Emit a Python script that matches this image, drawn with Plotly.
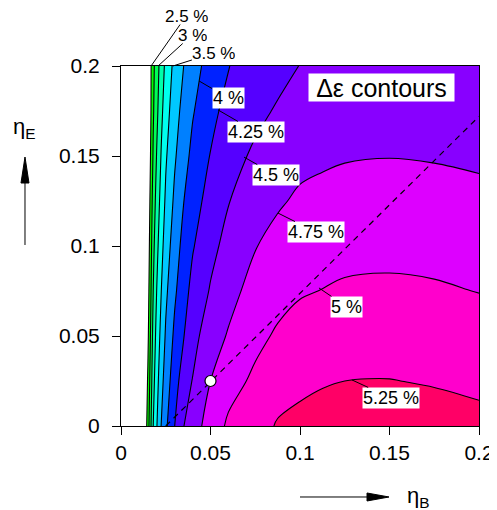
import plotly.graph_objects as go

# grid coordinates (eta_B along x, eta_E along y)
eta_B = [0.0135, 0.015, 0.0165, 0.018, 0.02, 0.0225, 0.025, 0.03, 0.035, 0.04,
         0.05, 0.06, 0.075, 0.0875, 0.1, 0.1125, 0.125, 0.15, 0.175, 0.2]
eta_E = [0.0, 0.025, 0.05, 0.075, 0.1, 0.125, 0.15, 0.175, 0.2]

# delta-epsilon (%), one list per eta_B column (bottom -> top)
col_00135 = [2.35, 2.30, 2.25, 2.20, 2.15, 2.10, 2.05, 2.00, 1.95]
col_0015 = [2.61, 2.53, 2.44, 2.38, 2.33, 2.28, 2.24, 2.20, 2.16]
col_00165 = [2.94, 2.85, 2.76, 2.69, 2.63, 2.57, 2.505, 2.46, 2.45]
col_0018 = [3.25, 3.17, 3.09, 3.00, 2.93, 2.86, 2.78, 2.72, 2.69]
col_002 = [3.49, 3.41, 3.34, 3.26, 3.18, 3.10, 3.02, 2.94, 2.89]
col_00225 = [3.76, 3.67, 3.58, 3.50, 3.42, 3.345, 3.27, 3.19, 3.12]
col_0025 = [3.95, 3.86, 3.78, 3.70, 3.62, 3.54, 3.47, 3.39, 3.31]
col_003 = [4.25, 4.15, 4.055, 3.96, 3.88, 3.80, 3.72, 3.65, 3.58]
col_0035 = [4.495, 4.37, 4.24, 4.16, 4.08, 3.995, 3.91, 3.83, 3.75]
col_004 = [4.635, 4.51, 4.415, 4.32, 4.23, 4.145, 4.06, 3.98, 3.90]
col_005 = [4.86, 4.75, 4.64, 4.52, 4.43, 4.345, 4.26, 4.18, 4.10]
col_006 = [5.04, 4.91, 4.77, 4.67, 4.58, 4.49, 4.41, 4.33, 4.245]
col_0075 = [5.15, 5.045, 4.94, 4.84, 4.74, 4.64, 4.54, 4.44, 4.34]
col_00875 = [5.27, 5.15, 5.03, 4.923, 4.823, 4.722, 4.623, 4.524, 4.426]
col_01 = [5.31, 5.20, 5.09, 4.98, 4.88, 4.785, 4.69, 4.595, 4.505]
col_01125 = [5.34, 5.232, 5.118, 5.005, 4.908, 4.812, 4.715, 4.62, 4.525]
col_0125 = [5.36, 5.25, 5.14, 5.03, 4.93, 4.83, 4.735, 4.64, 4.54]
col_015 = [5.36, 5.255, 5.15, 5.04, 4.94, 4.845, 4.745, 4.65, 4.55]
col_0175 = [5.34, 5.235, 5.13, 5.025, 4.93, 4.83, 4.735, 4.64, 4.54]
col_02 = [5.31, 5.205, 5.10, 4.995, 4.90, 4.805, 4.715, 4.625, 4.535]

columns = [col_00135, col_0015, col_00165, col_0018, col_002, col_00225, col_0025,
           col_003, col_0035, col_004, col_005, col_006, col_0075, col_00875,
           col_01, col_01125, col_0125, col_015, col_0175, col_02]

# contour levels (%)
level_start, level_end, level_step = 2.5, 5.25, 0.25
band_colors = ["#ffffff", "#00ff00", "#00ff55", "#00ffaa", "#00ffee", "#00c8ff",
               "#0080ff", "#0022ff", "#5500ff", "#8800ff", "#dd00ff", "#ff00cc",
               "#ff0066"]

# dashed reference line and marked design point
dash_x = [0.025, 0.2]
dash_y = [0.0, 0.172]
point_x = [0.05]
point_y = [0.025]

tick_vals = [0, 0.05, 0.1, 0.15, 0.2]
tick_text = ["0", "0.05", "0.1", "0.15", "0.2"]

# contour labels: (text, eta_B, eta_E, dx, dy, boxed)
labels = [("2.5 %", 0.0168, 0.2, 35, -50, False),
          ("3 %", 0.0207, 0.2, 34, -31, False),
          ("3.5 %", 0.029, 0.2, 41, -13, False),
          ("4 %", 0.0436, 0.1917, 29, 17, True),
          ("4.25 %", 0.0542, 0.1756, 38, 22, True),
          ("4.5 %", 0.0687, 0.1494, 32, 18, True),
          ("4.75 %", 0.0877, 0.1183, 38, 19, True),
          ("5 %", 0.1106, 0.0767, 28, 19, True),
          ("5.25 %", 0.129, 0.0256, 39, 18, True)]

z = [[columns[i][j] for i in range(len(eta_B))] for j in range(len(eta_E))]

n = len(band_colors) - 1
colorscale = [[k / n, c] for k, c in enumerate(band_colors)]

FONT = "Liberation Sans, Arial, Helvetica, sans-serif"

fig = go.Figure()
fig.add_trace(go.Contour(
    x=eta_B, y=eta_E, z=z,
    autocontour=False,
    contours=dict(start=level_start, end=level_end, size=level_step,
                  coloring="fill", showlines=True),
    line=dict(color="black", width=1.1),
    colorscale=colorscale, showscale=False, hoverinfo="skip",
))
fig.add_trace(go.Scatter(x=dash_x, y=dash_y, mode="lines",
                         line=dict(color="black", width=1.2, dash="6px,5px"),
                         hoverinfo="skip", showlegend=False))
fig.add_trace(go.Scatter(x=point_x, y=point_y, mode="markers",
                         marker=dict(size=11, color="white",
                                     line=dict(color="black", width=1.2)),
                         hoverinfo="skip", showlegend=False))

annotations = []
for text, xv, yv, dx, dy, boxed in labels:
    annotations.append(dict(
        x=xv, y=yv, xref="x", yref="y", text=text, showarrow=True,
        ax=dx, ay=dy, arrowhead=0, arrowwidth=1, arrowcolor="black",
        font=dict(family=FONT, size=18 if boxed else 17, color="black"),
        bgcolor="white" if boxed else "rgba(0,0,0,0)", borderpad=0,
        height=20 if boxed else 16,
    ))

annotations.append(dict(x=0.7263, y=0.9403, xref="paper", yref="paper",
                        xanchor="center", yanchor="middle",
                        text="\u0394\u03b5 contours", showarrow=False,
                        font=dict(family=FONT, size=25, color="black"),
                        bgcolor="white", borderpad=0, width=145, height=27))
# axis titles
annotations.append(dict(x=-0.2682, y=0.8278, xref="paper", yref="paper",
                        xanchor="center", yanchor="middle",
                        text="\u03b7<sub>E</sub>", showarrow=False,
                        font=dict(family=FONT, size=22, color="black")))
annotations.append(dict(x=0.8324, y=-0.1972, xref="paper", yref="paper",
                        xanchor="center", yanchor="middle",
                        text="\u03b7<sub>B</sub>", showarrow=False,
                        font=dict(family=FONT, size=22, color="black")))

# axis-direction arrows drawn as shapes (paper coordinates)
hw_x = 4 / 358
hw_y = 4 / 360
shapes = [
    dict(type="line", xref="paper", yref="paper", x0=-0.2682, x1=-0.2682,
         y0=0.5028, y1=0.68, line=dict(color="black", width=1)),
    dict(type="path", xref="paper", yref="paper",
         path=f"M {-0.2682 - hw_x},0.675 L {-0.2682 + hw_x},0.675 L -0.2682,0.7472 Z",
         fillcolor="black", line=dict(color="black", width=1)),
    dict(type="line", xref="paper", yref="paper", x0=0.5, x1=0.69,
         y0=-0.1972, y1=-0.1972, line=dict(color="black", width=1)),
    dict(type="path", xref="paper", yref="paper",
         path=f"M 0.6872,{-0.1972 - hw_y} L 0.6872,{-0.1972 + hw_y} L 0.7486,-0.1972 Z",
         fillcolor="black", line=dict(color="black", width=1)),
]

axis_common = dict(showline=True, linecolor="black", linewidth=1, mirror=True,
                   ticks="outside", ticklen=8, tickcolor="black", tickwidth=1,
                   showgrid=False, zeroline=False, range=[0, 0.2],
                   tickvals=tick_vals, ticktext=tick_text,
                   tickfont=dict(family=FONT, size=21, color="black"))

fig.update_layout(
    width=489, height=502,
    margin=dict(l=113, r=18, t=58, b=84, autoexpand=False),
    paper_bgcolor="white", plot_bgcolor="white",
    showlegend=False,
    xaxis=dict(**axis_common),
    yaxis=dict(ticklabelstandoff=8, **axis_common),
    annotations=annotations,
    shapes=shapes,
)

fig.write_html("out.html")
